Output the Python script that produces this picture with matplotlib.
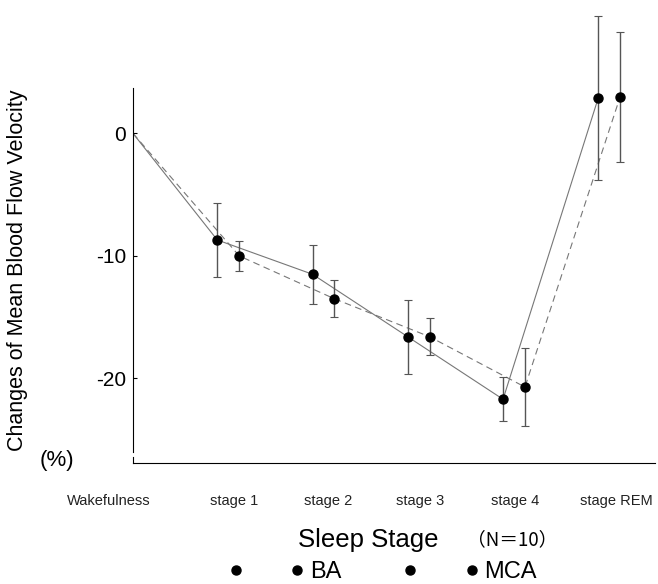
import matplotlib
matplotlib.use("Agg")
import matplotlib.pyplot as plt
from matplotlib.lines import Line2D

plt.rcParams["font.family"] = ["Liberation Sans", "DejaVu Sans"]

stages = ["Wakefulness", "stage 1", "stage 2", "stage 3", "stage 4", "stage REM"]

# mean change (%) and SD
ba_mean = [0, -8.7, -11.5, -16.6, -21.7, 2.9]
ba_err = [0, 3.0, 2.4, 3.0, 1.8, 6.7]
mca_mean = [0, -10.0, -13.5, -16.6, -20.7, 3.0]
mca_err = [0, 1.2, 1.5, 1.5, 3.2, 5.3]

offset = 0.115
x = list(range(len(stages)))
x_ba = [0] + [i - offset for i in x[1:]]
x_mca = [0] + [i + offset for i in x[1:]]

fig = plt.figure(figsize=(6.58, 5.84), dpi=100)
ax = fig.add_axes([0.2021, 0.2072, 0.7933, 0.6421])

ax.plot(x_ba, ba_mean, color="#777777", lw=0.8, ls="-", zorder=2)
ax.plot(x_mca, mca_mean, color="#777777", lw=0.8, ls=(0, (6, 4)), zorder=2)

ax.errorbar(x_ba[1:], ba_mean[1:], yerr=ba_err[1:], fmt="o", color="black",
            ms=6.5, ecolor="#555555", elinewidth=1, capsize=3, capthick=0.8,
            clip_on=False, zorder=3)
ax.errorbar(x_mca[1:], mca_mean[1:], yerr=mca_err[1:], fmt="o", color="black",
            ms=6.5, ecolor="#555555", elinewidth=1, capsize=3, capthick=0.8,
            clip_on=False, zorder=3)

ax.set_yticks([0, -10, -20])
ax.set_yticklabels(["0", "-10", "-20"])
ax.tick_params(axis="y", direction="in", length=3, width=0.8, labelsize=15, pad=5)

# stage names sit under the axis, Wakefulness shifted left of the origin
ax.set_xticks([])
label_pos = [-0.25, 1.06, 2.05, 3.01, 4.01, 5.07]
for pos, name in zip(label_pos, stages):
    ax.text(pos, -0.101, name, transform=ax.get_xaxis_transform(),
            ha="center", va="center", fontsize=10.5, color="#222222",
            clip_on=False)

ax.set_xlim(0, 5.48)
ax.set_ylim(-26.9, 3.7)

ax.spines["top"].set_visible(False)
ax.spines["right"].set_visible(False)
ax.spines["left"].set_bounds(-26.0, 3.7)
ax.plot([0, 0], [-26.9, -26.45], color="black", lw=0.8, clip_on=False)
ax.spines["left"].set_linewidth(0.8)
ax.spines["bottom"].set_linewidth(0.8)

fig.text(0.026, 0.538, "Changes of Mean Blood Flow Velocity", rotation=90,
         ha="center", va="center", fontsize=15.5)
fig.text(0.087, 0.212, "(%)", ha="center", va="center", fontsize=16)
fig.text(0.56, 0.075, "Sleep Stage", ha="center", va="center", fontsize=18.5)
fig.text(0.778, 0.075, "（N＝10）", ha="center", va="center", fontsize=13.5,
         family=["Noto Sans CJK JP", "DejaVu Sans"])

handles = [
    Line2D([], [], ls="none", marker="o", color="black", ms=6.5),
    Line2D([], [], ls="none", marker="o", color="black", ms=6.5),
]
fig.legend(handles, ["BA", "MCA"], loc="center", bbox_to_anchor=(0.582, 0.02),
           ncol=2, frameon=False, numpoints=2, handlelength=3.2,
           handletextpad=0.25, columnspacing=2.6, fontsize=17,
           borderaxespad=0, borderpad=0)

fig.savefig("out.png", dpi=100)
